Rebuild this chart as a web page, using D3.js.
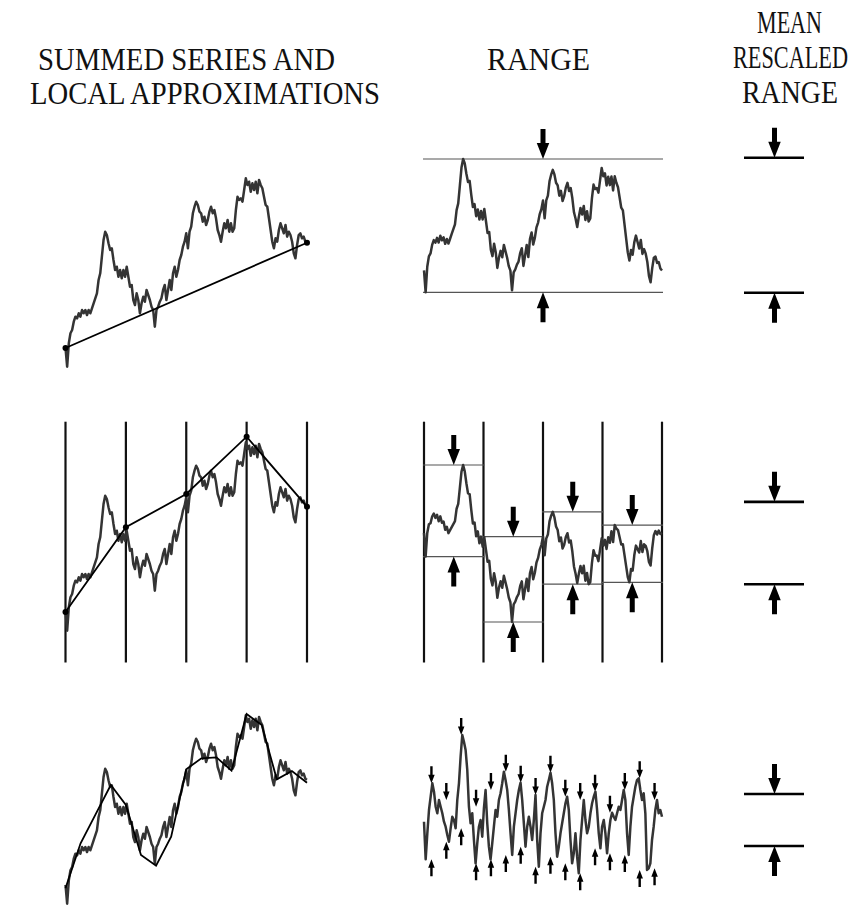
<!DOCTYPE html>
<html>
<head>
<meta charset="utf-8">
<script src="https://cdn.jsdelivr.net/npm/d3@7"></script>
<style>
  body { margin: 0; background: #fff; }
  svg { display: block; }
</style>
</head>
<body>
<svg id="fig" width="853" height="905"></svg>
<script>
// Summed (cumulative) series, one value per step
const series = [
  0, -18.7, 4.7, 14.7, 18.0, 26.3, 31.3, 29.7, 34.7, 31.3,
  38.0, 34.7, 38.0, 33.0, 38.0, 34.7, 39.7, 44.7, 49.7, 54.7,
  68.0, 74.7, 91.3, 108.0, 116.3, 113.0, 104.7, 98.0, 99.7, 88.0,
  78.0, 81.3, 71.3, 78.0, 69.7, 78.0, 71.3, 81.3, 71.3, 61.3,
  63.0, 48.0, 43.0, 54.7, 48.0, 34.7, 44.7, 51.3, 46.3, 58.0,
  53.0, 48.0, 41.3, 38.0, 21.3, 38.0, 41.3, 46.3, 49.7, 58.0,
  63.0, 48.0, 58.0, 68.0, 58.0, 74.7, 81.3, 71.3, 78.0, 88.0,
  93.0, 101.3, 106.3, 114.7,
  99.7, 116.3, 121.3, 134.7, 141.3, 146.3, 143.0, 136.3, 134.7, 126.3,
  131.3, 123.0, 128.0, 136.3, 141.3, 134.7, 138.0, 129.7, 118.0, 113.0,
  106.3, 116.3, 124.7, 119.7, 128.0, 116.3, 124.7, 116.3, 119.7, 138.0,
  151.3, 148.0, 149.7, 146.3, 158.0, 169.7, 163.0, 166.3, 156.3, 164.7,
  158.0, 166.3, 154.7, 168.0, 163.0, 159.7, 151.3, 143.0, 141.3, 129.7,
  118.0, 106.3, 99.7, 109.7, 106.3, 118.0, 124.7, 119.7, 114.7, 123.0,
  111.3, 116.3, 113.0, 106.3, 94.7, 89.7, 103.0, 113.0, 114.7, 109.7,
  111.3, 106.3, 105.3
];

// Local approximations: values at equally spaced breakpoints
const trendNodes   = [0, 105.3];
const quarterNodes = [0, 84.7, 118.0, 175.3, 105.3];
const fineNodes    = [-3.3, 41.7, 70.8, 100.0, 80.0, 30.0, 19.3, 48.3, 115.7,
                      126.7, 127.7, 114.3, 171.0, 160.0, 105.7, 114.0, 102.3];

// Fluctuation left after the fine (16-piece) approximation, amplified
const fineResidual = [
  -16.7, -54.3, -28.3, -5.0, 8.3, 21.7, 13.3, -1.7, -8.3, 5.0,
  -1.7, -8.3, -16.7, -21.7, -30.0, -36.7, -23.3, -11.7, -15.0, -23.3,
  5.0, 21.7, 48.3, 70.0, 63.3, 55.0, 35.0, -1.7, -18.3, -8.3,
  -35.0, -58.3, -38.3, -21.7, -15.0, -31.7, -3.3, 15.0, -18.3, -41.7,
  -54.3, -38.3, -21.7, -5.0, -11.7, 5.0, 11.7, 21.7, 33.3, 25.0,
  15.0, -5.0, -28.3, -50.0, -21.7, -8.3, 5.0, 15.0, 22.3, 5.0,
  -18.3, -41.7, -21.7, -11.7, -21.7, -35.0, -15.0, 10.0, -35.0, -61.7,
  -28.3, -8.3, -1.7, 5.0, 18.3, 25.0, 32.3, 21.7, 5.0, -28.3,
  -51.7, -41.7, -28.3, -18.3, -8.3, 1.7, 8.3, -5.0, -35.0, -58.3,
  -48.3, -28.3, -51.7, -68.3, -35.0, -15.0, 5.0, -15.0, -28.3, -21.7,
  -8.3, 1.7, 8.3, 13.3, -5.0, -28.3, -43.3, -21.7, -15.0, -28.3,
  -48.3, -28.3, -15.0, -7.7, -11.7, -15.0, -8.3, -1.7, -5.0, 5.0,
  15.0, 5.0, -28.3, -50.0, -21.7, -1.7, 8.3, 18.3, 25.0, 26.7,
  15.0, 5.0, 11.7, -8.3, -65.0, -63.3, -58.3, -35.0, -21.7, -5.0,
  5.0, -8.3, -5.0, -11.7
];

// Mean rescaled range for each window size (relative to the whole series)
const meanRescaledRange = [1.00, 0.61, 0.385];

// Column headings
const titleLeft  = ["SUMMED SERIES AND", "LOCAL APPROXIMATIONS"];
const titleMid   = ["RANGE"];
const titleRight = ["MEAN", "RESCALED", "RANGE"];

// ---------------------------------------------------------------------------
const svg = d3.select("#fig");
const N = series.length;
const idx = d3.range(N);

const xLeft = d3.scaleLinear().domain([0, N - 1]).range([65.5, 307]);
const MID_X = [424, 662];

const SERIES_COLOR = "#343434";
const FONT = "'Liberation Serif', 'DejaVu Serif', serif";

// headings: narrow serif capitals, stretched vertically
function heading(lines, specs) {
  lines.forEach((t, i) => {
    const s = specs[i];
    svg.append("text")
      .attr("transform", `translate(${s.x},${s.y}) scale(1,1.36)`)
      .attr("x", 0).attr("y", 0)
      .attr("textLength", s.w).attr("lengthAdjust", "spacingAndGlyphs")
      .attr("font-family", FONT).attr("font-size", 22.5)
      .attr("fill", "#111")
      .text(t);
  });
}
heading(titleLeft,  [{x: 38, y: 70, w: 297}, {x: 30, y: 104, w: 350}]);
heading(titleMid,   [{x: 487, y: 70, w: 103}]);
heading(titleRight, [{x: 757, y: 33, w: 65}, {x: 733, y: 68, w: 115}, {x: 742, y: 103, w: 96}]);

// filled block arrow; dir = 1 points down, -1 points up
function arrow(g, x, tip, dir, a) {
  const tail = tip - dir * a.len;
  const neck = tip - dir * a.head;
  const pts = [
    [x - a.shaft / 2, tail], [x + a.shaft / 2, tail], [x + a.shaft / 2, neck],
    [x + a.headW / 2, neck], [x, tip], [x - a.headW / 2, neck], [x - a.shaft / 2, neck]
  ];
  g.append("path").attr("d", d3.line()(pts) + "Z").attr("fill", "#000");
}
const BIG   = {len: 30, shaft: 5, headW: 12.5, head: 16};
const SMALL = {len: 17, shaft: 2.4, headW: 6.5, head: 8.5};

// piecewise-linear approximation value at step i
function fitAt(nodes, i) {
  const seg = (N - 1) / (nodes.length - 1);
  const k = Math.min(Math.floor(i / seg), nodes.length - 2);
  const t = (i - k * seg) / seg;
  return nodes[k] + (nodes[k + 1] - nodes[k]) * t;
}

const rows = [
  {nodes: trendNodes,   base: 348, dots: true,  vlines: false, box: true,
   resid: null, residY: [292.3, 159], arrow: BIG, center: 225.3},
  {nodes: quarterNodes, base: 612, dots: true,  vlines: true,  box: true,
   resid: null, residY: [622, 465], arrow: BIG, center: 543},
  {nodes: fineNodes,    base: 885, dots: false, vlines: false, box: false,
   resid: fineResidual, residY: [873.3, 735], arrow: SMALL, center: 820}
];
const VLINE_Y = [421.7, 662.5];
const rrScale = d3.scaleLinear().domain([0, 1]).range([0, 135]);

rows.forEach((row, r) => {
  const g = svg.append("g");
  const nSeg = row.nodes.length - 1;
  const seg = (N - 1) / nSeg;
  const yL = d3.scaleLinear().domain([0, 100]).range([row.base, row.base - 100]);

  // --- left: summed series with its local approximation
  if (row.vlines) {
    row.nodes.forEach((_, k) => {
      g.append("line")
        .attr("x1", xLeft(k * seg)).attr("x2", xLeft(k * seg))
        .attr("y1", VLINE_Y[0]).attr("y2", VLINE_Y[1])
        .attr("stroke", "#111").attr("stroke-width", 2.2);
    });
  }
  g.append("path")
    .datum(idx)
    .attr("d", d3.line().x(i => xLeft(i)).y(i => yL(series[i])))
    .attr("fill", "none").attr("stroke", SERIES_COLOR)
    .attr("stroke-width", 2.5).attr("stroke-linejoin", "round");
  g.append("path")
    .datum(row.nodes)
    .attr("d", d3.line().x((v, k) => xLeft(k * seg)).y(v => yL(v)))
    .attr("fill", "none").attr("stroke", "#000").attr("stroke-width", 1.8);
  if (row.dots) {
    g.selectAll(null).data(row.nodes).join("circle")
      .attr("cx", (v, k) => xLeft(k * seg)).attr("cy", v => yL(v))
      .attr("r", 3).attr("fill", "#000");
  }

  // --- middle: fluctuation around the approximation, range per window
  const resid = row.resid || idx.map(i => series[i] - fitAt(row.nodes, i));
  const M = resid.length;
  const ridx = d3.range(M);
  const rseg = (M - 1) / nSeg;
  const xMid = d3.scaleLinear().domain([0, M - 1]).range(MID_X);
  const yM = d3.scaleLinear().domain(d3.extent(resid)).range(row.residY);

  if (row.vlines) {
    d3.range(nSeg + 1).forEach(k => {
      g.append("line")
        .attr("x1", xMid(k * rseg)).attr("x2", xMid(k * rseg))
        .attr("y1", VLINE_Y[0]).attr("y2", VLINE_Y[1])
        .attr("stroke", "#111").attr("stroke-width", 2.2);
    });
  }

  const ranges = d3.range(nSeg).map(k => {
    const vals = ridx.filter(i => i >= k * rseg - 1e-9 && i <= (k + 1) * rseg + 1e-9).map(i => resid[i]);
    return {k, max: d3.max(vals), min: d3.min(vals)};
  });

  ranges.forEach(rg => {
    const x0 = xMid(rg.k * rseg), x1 = xMid((rg.k + 1) * rseg);
    const xc = (x0 + x1) / 2;
    if (row.box) {
      [rg.max, rg.min].forEach(v => {
        g.append("line")
          .attr("x1", x0 - 1).attr("x2", x1 + 1)
          .attr("y1", yM(v)).attr("y2", yM(v))
          .attr("stroke", "#555").attr("stroke-width", 1.2);
      });
    }
    arrow(g, xc, yM(rg.max), 1, row.arrow);
    arrow(g, xc, yM(rg.min), -1, row.arrow);
  });

  g.append("path")
    .datum(ridx)
    .attr("d", d3.line().x(i => xMid(i)).y(i => yM(resid[i])))
    .attr("fill", "none").attr("stroke", SERIES_COLOR)
    .attr("stroke-width", 2.5).attr("stroke-linejoin", "round");

  // --- right: mean rescaled range
  const half = rrScale(meanRescaledRange[r]) / 2;
  const xr = 774.5;
  [row.center - half, row.center + half].forEach(y => {
    g.append("line").attr("x1", 744).attr("x2", 804).attr("y1", y).attr("y2", y)
      .attr("stroke", "#000").attr("stroke-width", 2.6);
  });
  arrow(g, xr, row.center - half, 1, BIG);
  arrow(g, xr, row.center + half, -1, BIG);
});
</script>
</body>
</html>
